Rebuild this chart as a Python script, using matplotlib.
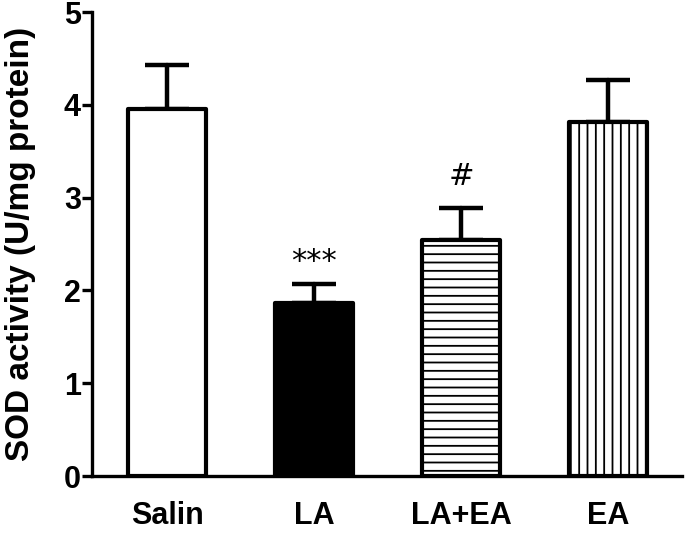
import matplotlib
matplotlib.use("Agg")
import matplotlib.pyplot as plt
import numpy as np

# data
groups = ["Salin", "LA", "LA+EA", "EA"]
means = [3.95, 1.86, 2.54, 3.81]
sem = [0.48, 0.21, 0.35, 0.46]
marks = ["", "***", "#", ""]

faces = ["white", "black", "white", "white"]
hatches = [None, None, "--", "||"]

plt.rcParams["font.family"] = ["Liberation Sans", "DejaVu Sans"]
plt.rcParams["hatch.linewidth"] = 1.3

fig = plt.figure(figsize=(6.85, 5.44), dpi=100)
ax = fig.add_axes([92 / 685, 1 - 476 / 544, 590 / 685, (476 - 12) / 544])

x = np.arange(len(groups))
bars = ax.bar(x, means, width=0.53, color=faces, edgecolor="black",
              linewidth=3, hatch=hatches, zorder=2)
for b in bars:
    b.set_joinstyle("round")

eb = ax.errorbar(x, means, yerr=[np.zeros(len(sem)), sem], fmt="none",
                 ecolor="black", elinewidth=3.2, capsize=15.5, capthick=3.2,
                 zorder=1)
for ln in eb.lines[1]:
    ln.set_solid_capstyle("round")
for lc in eb.lines[2]:
    lc.set_capstyle("round")

# asterisks sit high in their box, so they need less room than '#'
lift = {"***": 0.24, "#": 0.34}
for xi, m, s, t in zip(x, means, sem, marks):
    if t:
        ax.text(xi, m + s + lift[t], t, ha="center", va="center", fontsize=22,
                family="DejaVu Sans")

ax.set_xlim(-0.51, 3.5)
ax.set_ylim(0, 5)
ax.set_yticks(range(6))
ax.set_xticks(x)
ax.set_xticklabels(groups, fontsize=22, fontweight="bold")
ax.tick_params(axis="y", labelsize=22, width=2.4, length=7, pad=1)
for lab in ax.get_yticklabels():
    lab.set_fontweight("bold")
ax.tick_params(axis="x", length=0, pad=18)

for side in ["top", "right"]:
    ax.spines[side].set_visible(False)
for side in ["left", "bottom"]:
    ax.spines[side].set_linewidth(2.4)

ax.set_ylabel("SOD activity (U/mg protein)", fontsize=24, fontweight="bold",
              labelpad=20)

fig.savefig("out.png", dpi=100)
